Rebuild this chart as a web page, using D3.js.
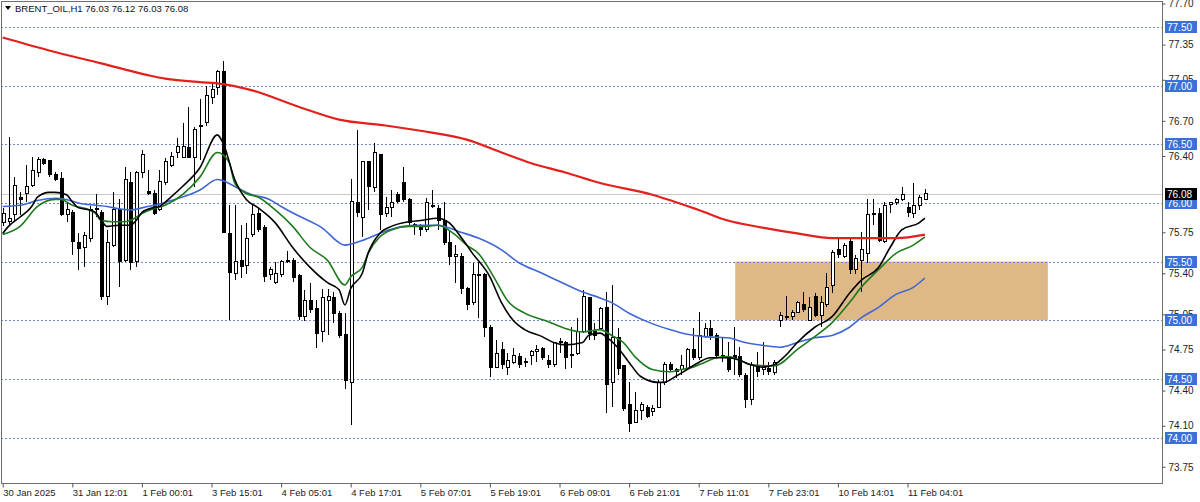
<!DOCTYPE html>
<html><head><meta charset="utf-8">
<script src="https://cdn.jsdelivr.net/npm/d3@7"></script>
<style>
body{margin:0;background:#fff}
svg{display:block}
text{font-family:"Liberation Sans",Arial,sans-serif}
</style>
</head><body>
<svg id="chart" width="1200" height="502"></svg>
<script>
// ---------------- DATA ----------------
const symbolName = "BRENT_OIL,H1";
const lastQuote = [76.03, 76.12, 76.03, 76.08];

const open = [75.83,75.84,75.90,76.05,76.08,76.15,76.26,76.37,76.36,76.24,
76.21,75.90,75.92,75.66,75.62,75.70,75.94,75.92,75.20,75.64,
75.94,75.51,76.17,75.50,76.26,76.10,76.08,75.94,76.17,76.32,
76.43,76.39,76.47,76.39,76.65,76.69,76.90,76.98,77.12,75.74,
75.40,75.51,75.47,75.73,75.91,75.79,75.39,75.32,75.39,75.50,
75.51,75.38,75.03,75.17,75.10,74.90,75.17,75.19,75.06,74.88,
74.47,76.00,75.88,76.35,76.13,76.41,75.91,75.96,76.07,76.17,
76.03,75.82,75.80,75.77,75.98,75.95,75.85,75.66,75.54,75.54,
75.27,75.15,75.39,75.39,74.94,74.60,74.75,74.60,74.64,74.69,
74.64,74.70,74.73,74.76,74.66,74.62,74.81,74.81,74.70,74.72,
74.90,75.19,74.90,74.93,75.11,74.47,74.85,74.61,74.28,74.13,
74.23,74.26,74.22,74.26,74.47,74.62,74.56,74.58,74.59,74.75,
74.68,74.86,74.93,74.87,74.70,74.69,74.70,74.69,74.53,74.32,
74.60,74.58,74.59,74.55,75.00,75.02,75.03,75.07,75.13,75.00,
75.20,75.04,75.13,75.30,75.60,75.54,75.67,75.43,75.51,75.57,
75.91,75.91,75.67,75.99,76.00,76.03,75.96,75.91,75.98,76.03];

const high = [75.96,76.56,76.22,76.09,76.32,76.39,76.39,76.38,76.37,76.26,
76.26,76.00,75.94,75.74,75.75,75.97,76.08,75.94,75.77,76.09,
76.03,76.31,76.26,76.27,76.45,76.28,76.11,76.28,76.38,76.43,
76.55,76.68,76.82,76.65,76.89,77.00,77.01,77.13,77.21,75.98,
75.98,75.81,75.83,75.98,75.96,75.81,75.45,75.50,75.51,75.59,
75.53,75.39,75.26,75.32,75.17,75.27,75.27,75.24,75.08,75.06,
76.20,76.62,76.36,76.36,76.51,76.42,76.05,76.11,76.09,76.31,
76.04,75.83,75.82,76.04,76.11,75.98,76.01,75.77,75.64,75.57,
75.28,75.49,75.50,75.40,74.96,74.83,74.81,74.72,74.76,74.72,
74.68,74.75,74.79,74.77,74.70,74.81,74.85,74.82,74.94,75.02,
75.26,75.20,74.98,75.11,75.24,75.30,74.93,74.62,74.47,74.39,
74.30,74.28,74.28,74.49,74.64,74.64,74.59,74.70,74.76,74.93,
75.07,74.98,75.00,74.89,74.85,74.81,74.94,74.77,74.55,74.64,
74.73,74.81,74.64,74.66,75.07,75.21,75.09,75.16,75.24,75.20,
75.23,75.21,75.40,75.60,75.71,75.66,75.70,75.56,75.75,76.03,
76.03,75.96,76.01,76.01,76.04,76.14,76.01,76.17,76.07,76.12];

const low = [75.80,75.80,75.85,75.90,76.01,76.14,76.22,76.32,76.22,76.19,
75.89,75.84,75.56,75.43,75.45,75.67,75.88,75.17,75.13,75.62,
75.28,75.50,75.43,75.45,76.21,76.07,75.90,75.93,76.15,76.31,
76.38,76.38,76.38,76.14,76.37,76.66,76.84,76.92,75.74,75.00,
75.34,75.36,75.39,75.71,75.75,75.33,75.34,75.31,75.37,75.49,
75.33,75.00,74.99,75.06,74.76,74.81,74.87,74.98,74.85,74.41,
74.11,75.88,75.71,75.94,76.09,75.77,75.88,75.88,76.00,76.01,
75.81,75.73,75.72,75.75,75.96,75.77,75.64,75.47,75.32,75.22,
75.09,75.13,75.02,74.86,74.52,74.59,74.58,74.53,74.63,74.59,
74.60,74.62,74.64,74.66,74.59,74.60,74.72,74.58,74.59,74.70,
74.89,74.83,74.83,74.92,74.21,74.26,74.53,74.23,74.05,74.12,
74.15,74.17,74.18,74.25,74.45,74.56,74.51,74.53,74.58,74.66,
74.66,74.85,74.83,74.69,74.64,74.56,74.53,74.52,74.25,74.28,
74.52,74.53,74.53,74.53,74.94,75.00,75.00,75.06,75.07,74.99,
75.03,74.94,75.11,75.23,75.53,75.53,75.39,75.39,75.24,75.49,
75.81,75.67,75.66,75.91,75.98,76.02,75.88,75.87,75.94,76.03];

const close = [75.91,75.87,76.15,76.03,76.14,76.28,76.37,76.34,76.24,76.20,
75.90,75.94,75.67,75.61,75.72,75.94,75.95,75.20,75.66,75.94,
75.50,76.20,75.49,76.26,76.41,76.08,75.91,76.18,76.35,76.40,
76.48,76.48,76.39,76.63,76.66,76.92,76.97,77.12,75.75,75.41,
75.50,75.46,75.70,75.90,75.77,75.37,75.43,75.40,75.50,75.51,
75.36,75.03,75.17,75.09,74.89,75.19,75.20,75.06,74.87,74.49,
76.01,75.92,76.35,76.14,76.43,75.90,75.96,76.00,76.01,76.03,
75.83,75.81,75.77,76.00,75.97,75.85,75.66,75.54,75.56,75.27,
75.13,75.39,75.38,74.94,74.60,74.72,74.62,74.66,74.70,74.62,
74.65,74.73,74.75,74.68,74.62,74.81,74.82,74.68,74.71,74.90,
75.20,74.89,74.87,75.10,74.45,74.85,74.59,74.25,74.12,74.23,
74.28,74.18,74.25,74.47,74.62,74.58,74.58,74.61,74.75,74.68,
74.87,74.93,74.87,74.70,74.69,74.58,74.68,74.54,74.32,74.62,
74.56,74.60,74.56,74.64,75.04,75.03,75.07,75.15,75.09,75.11,
75.04,75.15,75.28,75.58,75.56,75.64,75.43,75.53,75.60,75.90,
75.90,75.68,75.98,76.00,76.03,76.07,75.92,75.98,76.05,76.08];

// moving averages: [bar, price]
const maRed = [[0,77.41],[8,77.30],[17,77.19],[25,77.09],[28,77.06],[34,77.03],[37,77.02],
[43,76.96],[51,76.82],[58,76.71],[66,76.66],[74,76.60],[80,76.54],[86,76.43],[91,76.34],
[97,76.26],[103,76.17],[112,76.07],[120,75.94],[125,75.85],[131,75.79],[137,75.74],
[143,75.70],[148,75.70],[154,75.70],[159,75.73]];
const maBlack = [[0,75.74],[1,75.80],[3,75.88],[5,75.97],[6,76.05],[8,76.09],[9,76.09],
[11,76.07],[12,76.01],[13,75.96],[15,75.94],[16,75.92],[17,75.85],[18,75.80],[20,75.81],
[22,75.81],[23,75.85],[24,75.92],[26,75.96],[27,75.97],[29,76.05],[31,76.14],[34,76.30],
[37,76.58],[38,76.51],[40,76.20],[42,76.03],[44,75.96],[47,75.83],[50,75.62],[53,75.45],
[56,75.32],[58,75.26],[59,75.13],[60,75.27],[62,75.40],[63,75.57],[65,75.74],[67,75.80],
[70,75.84],[72,75.85],[75,75.87],[77,75.83],[79,75.71],[81,75.57],[84,75.37],[86,75.15],
[88,75.00],[90,74.92],[93,74.86],[95,74.81],[97,74.79],[100,74.81],[101,74.87],[103,74.89],
[104,74.86],[106,74.77],[108,74.64],[110,74.52],[113,74.47],[114,74.47],[116,74.52],
[118,74.58],[120,74.64],[122,74.68],[125,74.68],[127,74.66],[129,74.62],[131,74.60],
[133,74.62],[135,74.70],[137,74.81],[140,74.94],[143,75.03],[146,75.23],[148,75.34],
[151,75.45],[153,75.62],[155,75.77],[158,75.83],[159,75.87]];
const maGreen = [[0,75.73],[3,75.80],[6,75.97],[9,76.03],[10,76.03],[12,75.98],[15,75.94],
[16,75.91],[17,75.85],[19,75.84],[21,75.84],[22,75.85],[24,75.91],[26,75.95],[28,75.98],
[31,76.07],[34,76.22],[37,76.43],[39,76.35],[40,76.17],[42,76.08],[44,76.05],[47,75.94],
[50,75.80],[53,75.62],[56,75.51],[59,75.30],[60,75.37],[62,75.45],[63,75.57],[65,75.71],
[67,75.77],[70,75.80],[73,75.80],[75,75.81],[78,75.73],[80,75.64],[82,75.57],[85,75.34],
[87,75.17],[90,75.06],[94,74.99],[97,74.93],[100,74.90],[103,74.92],[105,74.87],[107,74.81],
[109,74.69],[112,74.58],[115,74.56],[117,74.58],[119,74.60],[121,74.64],[123,74.68],
[125,74.69],[127,74.66],[129,74.62],[133,74.61],[137,74.75],[140,74.86],[143,74.98],
[146,75.15],[148,75.28],[151,75.43],[154,75.57],[157,75.64],[159,75.71]];
const maBlue = [[0,75.97],[3,75.98],[6,76.02],[9,76.04],[11,76.03],[13,76.00],[16,75.98],
[18,75.97],[20,75.95],[22,75.94],[25,75.97],[27,75.99],[29,76.02],[31,76.05],[34,76.11],
[37,76.20],[38,76.19],[40,76.14],[43,76.07],[46,76.03],[48,75.97],[51,75.89],[55,75.79],
[59,75.64],[62,75.68],[65,75.74],[69,75.80],[72,75.81],[75,75.81],[79,75.75],[82,75.70],
[86,75.60],[89,75.49],[93,75.40],[96,75.33],[100,75.24],[103,75.19],[105,75.15],[108,75.06],
[111,74.99],[115,74.92],[118,74.88],[121,74.86],[125,74.85],[128,74.81],[132,74.78],
[134,74.77],[137,74.81],[140,74.85],[143,74.87],[146,74.94],[148,75.02],[151,75.11],
[154,75.22],[157,75.28],[159,75.36]];

const zoneBars = [126.3, 180.2];
const zonePrices = [75.00, 75.50];
const levelPrices = [77.50, 77.00, 76.50, 76.00, 75.50, 75.00, 74.50, 74.00];
const priceTicks = [77.70, 77.35, 77.05, 76.70, 76.40, 75.75, 75.40, 75.05, 74.75, 74.40, 74.10, 73.75];
const timeTickBars = [0,12,24,36,48,60,72,84,96,108,120,132,144,156];
const timeTickLabels = ["30 Jan 2025","31 Jan 12:01","1 Feb 00:01","3 Feb 15:01","4 Feb 05:01",
"4 Feb 17:01","5 Feb 07:01","5 Feb 19:01","6 Feb 09:01","6 Feb 21:01","7 Feb 11:01",
"7 Feb 23:01","10 Feb 14:01","11 Feb 04:01"];

// ---------------- LAYOUT ----------------
const W = 1200, H = 502;
const plot = {left: 1, top: 1, right: 1163, bottom: 484};
const svg = d3.select("#chart");
svg.append("rect").attr("width", W).attr("height", H).attr("fill", "#fff");

const x = d3.scaleLinear().domain([0, 200]).range([2.7, 2.7 + 200 * 5.8]);
const y = d3.scaleLinear().domain([74, 77.5]).range([437.5, 27]);

const clip = svg.append("defs").append("clipPath").attr("id", "clip")
  .append("rect").attr("x", plot.left).attr("y", plot.top)
  .attr("width", plot.right - plot.left).attr("height", plot.bottom - plot.top);
const g = svg.append("g").attr("clip-path", "url(#clip)");

// zone rectangle
g.append("rect")
  .attr("x", x(zoneBars[0])).attr("width", x(zoneBars[1]) - x(zoneBars[0]))
  .attr("y", y(zonePrices[1])).attr("height", y(zonePrices[0]) - y(zonePrices[1]))
  .attr("fill", "#deb887");

// current price line
g.append("line").attr("x1", plot.left).attr("x2", plot.right)
  .attr("y1", Math.round(y(lastQuote[3])) + 0.5).attr("y2", Math.round(y(lastQuote[3])) + 0.5)
  .attr("stroke", "#c8c8c8").attr("stroke-width", 1);

// level lines
g.selectAll("line.level").data(levelPrices).join("line")
  .attr("class", "level")
  .attr("x1", plot.left).attr("x2", plot.right)
  .attr("y1", d => Math.round(y(d)) + 0.5).attr("y2", d => Math.round(y(d)) + 0.5)
  .attr("stroke", "#7486cc").attr("stroke-width", 1).attr("stroke-dasharray", "2,2");

// candles
const idx = d3.range(open.length);
const cg = g.append("g").attr("shape-rendering", "crispEdges");
cg.selectAll("line.wick").data(idx).join("line")
  .attr("x1", i => Math.round(x(i)) + 0.5).attr("x2", i => Math.round(x(i)) + 0.5)
  .attr("y1", i => y(high[i])).attr("y2", i => y(low[i]))
  .attr("stroke", "#000").attr("stroke-width", 1);
cg.selectAll("rect.body").data(idx).join("rect")
  .attr("x", i => Math.round(x(i)) - 1)
  .attr("width", 3)
  .attr("y", i => y(Math.max(open[i], close[i])))
  .attr("height", i => Math.max(1, Math.abs(y(open[i]) - y(close[i]))))
  .attr("fill", i => close[i] >= open[i] ? "#fff" : "#000")
  .attr("stroke", "#000").attr("stroke-width", 1);

// moving averages
const line = d3.line().x(d => x(d[0])).y(d => y(d[1])).curve(d3.curveMonotoneX);
const mas = [
  {data: maBlue, color: "#3f66d6", w: 1.6},
  {data: maGreen, color: "#1d7a1d", w: 1.6},
  {data: maBlack, color: "#000000", w: 1.6},
  {data: maRed, color: "#e3201b", w: 2.2}
];
mas.forEach(m => {
  g.append("path").attr("d", line(m.data)).attr("fill", "none")
    .attr("stroke", m.color).attr("stroke-width", m.w);
});

// frame
svg.append("rect").attr("x", plot.left + 0.5).attr("y", plot.top + 0.5)
  .attr("width", plot.right - plot.left - 1).attr("height", plot.bottom - plot.top - 1)
  .attr("fill", "none").attr("stroke", "#6e6e6e").attr("stroke-width", 1);

// price axis
const yAxis = d3.axisRight(y).tickValues(priceTicks).tickSize(3).tickPadding(3)
  .tickFormat(d3.format(".2f"));
const ya = svg.append("g").attr("transform", `translate(${plot.right - 0.5},0)`).call(yAxis);
ya.select(".domain").remove();
ya.selectAll("text").attr("font-size", 10).attr("fill", "#222")
  .attr("font-family", "'Liberation Sans', Arial, sans-serif");
ya.selectAll("line").attr("stroke", "#555");

// level labels
const lab = svg.append("g");
levelPrices.forEach(p => {
  const yy = Math.round(y(p));
  lab.append("rect").attr("x", 1165).attr("y", yy - 6).attr("width", 32).attr("height", 12)
    .attr("fill", "#3d6fd9");
  lab.append("text").attr("x", 1167).attr("y", yy + 4).attr("font-size", 10)
    .attr("fill", "#fff").text(p.toFixed(2));
});
{
  const yy = Math.round(y(lastQuote[3]));
  lab.append("rect").attr("x", 1165).attr("y", yy - 6).attr("width", 32).attr("height", 12)
    .attr("fill", "#000");
  lab.append("text").attr("x", 1167).attr("y", yy + 4).attr("font-size", 10)
    .attr("fill", "#fff").text(lastQuote[3].toFixed(2));
}

// time axis
const xAxis = d3.axisBottom(x).tickValues(timeTickBars).tickSize(4).tickPadding(2)
  .tickFormat((d, i) => timeTickLabels[i]);
const xa = svg.append("g").attr("transform", `translate(0,${plot.bottom - 0.5})`).call(xAxis);
xa.select(".domain").remove();
xa.selectAll("text").attr("font-size", 9.5).attr("fill", "#222").attr("text-anchor", "start")
  .attr("dx", 0).attr("font-family", "'Liberation Sans', Arial, sans-serif");
xa.selectAll("line").attr("stroke", "#555");

// title
svg.append("path").attr("d", "M5,6 L11,6 L8,10 Z").attr("fill", "#000");
svg.append("text").attr("x", 15).attr("y", 12).attr("font-size", 9.5).attr("fill", "#111")
  .text(symbolName + "  " + lastQuote.map(v => v.toFixed(2)).join(" "));
</script>
</body></html>
